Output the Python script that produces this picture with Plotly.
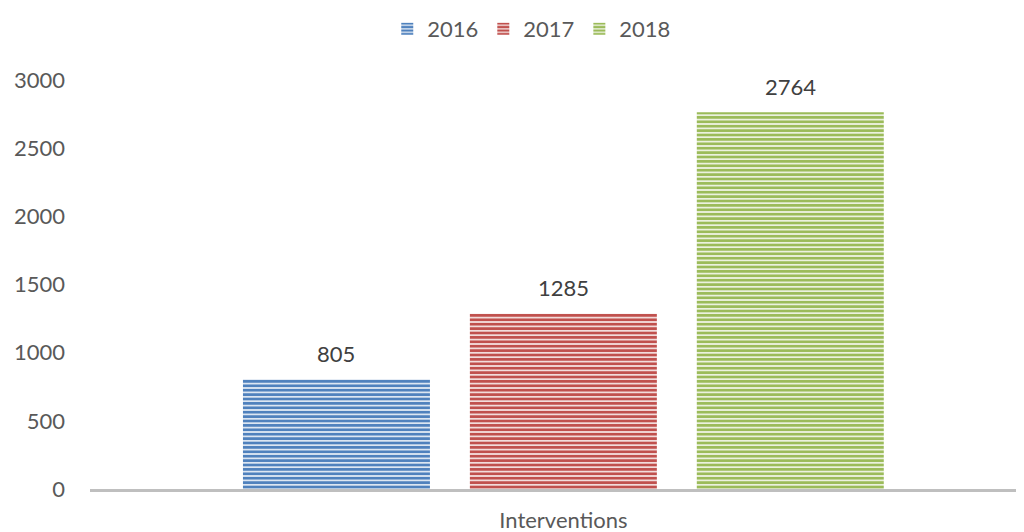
import plotly.graph_objects as go

categories = ["Interventions"]
years = ["2016", "2017", "2018"]
values_2016 = [805]
values_2017 = [1285]
values_2018 = [2764]
series = [values_2016, values_2017, values_2018]
fg_colors = ["#4f81bd", "#c0504d", "#9bbb59"]
bg_colors = ["#dce6f2", "#f2dcdb", "#ebf1de"]

fig = go.Figure()
for i, (name, vals, fg, bg) in enumerate(zip(years, series, fg_colors, bg_colors)):
    fig.add_trace(go.Bar(
        name=name, x=categories, y=vals,
        marker=dict(color=fg, line=dict(width=0),
                    pattern=dict(shape="-", fgcolor=fg, bgcolor=bg,
                                 size=4.4, solidity=0.6, fillmode="replace")),
    ))
    for c, v in zip(categories, vals):
        fig.add_annotation(x=c, y=v, text=str(v), showarrow=False,
                           xshift=(i - 1) * 227, yshift=26,
                           font=dict(size=22, color="#404040"))

fig.update_layout(
    width=1024, height=532,
    margin=dict(l=82, r=12, t=72, b=51),
    paper_bgcolor="white", plot_bgcolor="white",
    font=dict(family="Lato, Open Sans, sans-serif", size=22, color="#595959"),
    barmode="group", bargap=0.268, bargroupgap=0.176,
    legend=dict(orientation="h", x=0.475, xanchor="center", y=1.0, yanchor="top",
                yref="container", font=dict(size=22, color="#595959"),
                itemwidth=30),
    showlegend=True,
)
fig.update_xaxes(range=[-0.509, 0.491], showline=True, linecolor="#bfbfbf", linewidth=2.5,
                 ticks="", showgrid=False, automargin=False, ticklabelstandoff=10,
                 tickfont=dict(size=22, color="#595959"))
fig.update_yaxes(range=[0, 3000], dtick=500, showgrid=False, zeroline=False,
                 showline=False, ticks="", ticklabelstandoff=24, automargin=False,
                 tickfont=dict(size=22, color="#595959"))

fig.write_html("out.html")
